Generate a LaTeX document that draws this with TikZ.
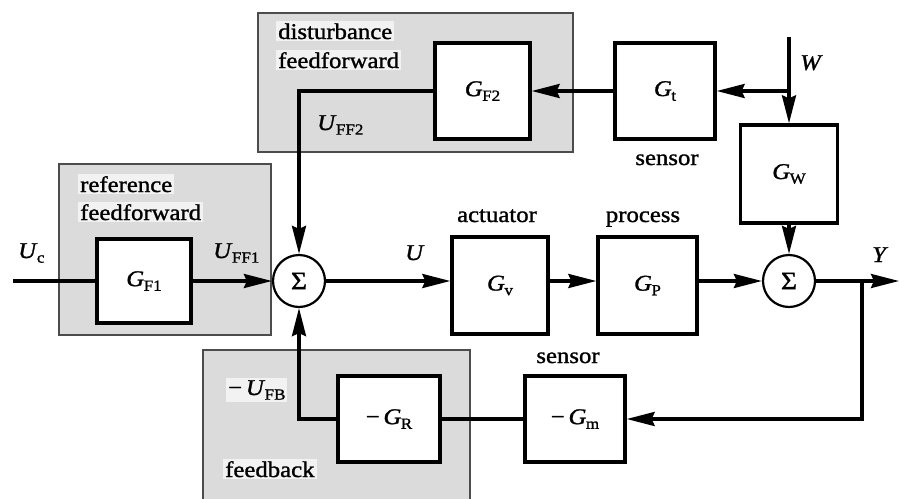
\documentclass[tikz,border=0pt]{standalone}
\usepackage{fontspec}
\setmainfont{Liberation Serif}[FakeStretch=1.1,FakeBold=1.2,ItalicFeatures={FakeBold=1.2}]
\usetikzlibrary{arrows.meta}
\newcommand\sym[2]{\textit{#1}\kern-0.5pt\raisebox{-0.45ex}{\fontsize{15.5}{15.5}\selectfont #2}}
\begin{document}
\begin{tikzpicture}[x=1pt,y=-1pt,
  font=\fontsize{22.5}{26}\selectfont,
  grp/.style={draw=black!70,line width=1.6pt,fill=black!14},
  blk/.style={draw,line width=3.3pt,fill=white,inner sep=0pt},
  sumn/.style={circle,draw,line width=2.2pt,fill=white,minimum size=52pt,inner sep=0pt,font=\fontsize{25}{26}\selectfont},
  wire/.style={line width=3.2pt},
  arr/.style={wire,-{Stealth[length=28pt,width=14pt,inset=3pt]}},
  lbl/.style={inner sep=0pt},
  glbl/.style={fill=black!5,inner sep=2pt}
]
\useasboundingbox (0,0) rectangle (899,498);
\fill[white] (0,0) rectangle (899,498);
% group boxes
\draw[grp] (258,13) rectangle (573,152);
\draw[grp] (59,164) rectangle (271,335);
\draw[grp] (203,350) rectangle (470,502);
% group labels
\node[glbl,anchor=base west] (ld1) at (276,39) {disturbance};
\node[glbl,anchor=base west] (ld2) at (276,68) {feedforward};
\node[glbl,anchor=base west] (lr1) at (78,192) {reference};
\node[glbl,anchor=base west] (lr2) at (78,220) {feedforward};
\node[glbl,anchor=base west] (lfb) at (223,477) {feedback};
% blocks
\node[blk,minimum width=95pt,minimum height=96pt] (gf2) at (482.5,91) {\sym{G}{F2}};
\node[blk,minimum width=100pt,minimum height=96pt] (gt) at (665,91) {\sym{G}{t}};
\node[blk,minimum width=97pt,minimum height=98pt] (gw) at (789,174) {\sym{G}{W}};
\node[blk,minimum width=94pt,minimum height=84pt] (gf1) at (144,281) {\sym{G}{F1}};
\node[sumn] (s1) at (299,281) {Σ};
\node[blk,minimum width=96pt,minimum height=97pt] (gv) at (500,285.5) {\sym{G}{v}};
\node[blk,minimum width=99pt,minimum height=97pt] (gp) at (647.5,285.5) {\sym{G}{P}};
\node[sumn] (s2) at (789,281) {Σ};
\node[blk,minimum width=102pt,minimum height=86pt] (gr) at (389,419) {−\,\sym{G}{R}};
\node[blk,minimum width=100pt,minimum height=86pt] (gm) at (575,419) {−\,\sym{G}{m}};
% block captions
\node[lbl,anchor=base] (la) at (497,222) {actuator};
\node[lbl,anchor=base] (lp) at (643,222) {process};
\node[lbl,anchor=base] (ls1) at (667,165) {sensor};
\node[lbl,anchor=base] (ls2) at (568,363) {sensor};
% signal labels
\node[lbl,anchor=base west] (luc) at (18,258) {\sym{U}{c}};
\node[lbl,anchor=base west] (luff1) at (213,258) {\sym{U}{FF1}};
\node[lbl,anchor=base west] (luff2) at (317,130) {\sym{U}{FF2}};
\node[lbl,anchor=base west] (lu) at (405,260) {\textit{U}};
\node[lbl,anchor=base west] (lw) at (800,70) {\textit{W}};
\node[lbl,anchor=base west] (ly) at (872,262) {\textit{Y}};
\node[glbl,anchor=base west] (lufb) at (226,395) {−\,\sym{U}{FB}};
% connectors
\coordinate (uc) at (13,281);
\coordinate (wtop) at (789,37);
\coordinate (wbr) at (789,91);
\coordinate (yend) at (899,281);
\coordinate (ybr) at (862,281);
\draw[wire] (uc) -- (gf1.west);
\draw[arr] (gf1.east) -- (s1.west);
\draw[arr] (s1.east) -- (gv.west |- s1);
\draw[arr] (gv.east |- s1) -- (gp.west |- s1);
\draw[arr] (gp.east |- s2) -- (s2.west);
\draw[arr] (s2.east) -- (yend);
\draw[arr] (ybr) |- (gm.east);
\draw[wire] (gm.west) -- (gr.east);
\draw[arr] (gr.west) -| (s1.south);
\draw[wire] (wtop) -- (wbr);
\draw[arr] (wbr) -- (gt.east);
\draw[arr] (wbr) -- (gw.north);
\draw[arr] (gw.south) -- (s2.north);
\draw[arr] (gt.west) -- (gf2.east);
\draw[arr] (gf2.west) -| (s1.north);
\end{tikzpicture}
\end{document}
